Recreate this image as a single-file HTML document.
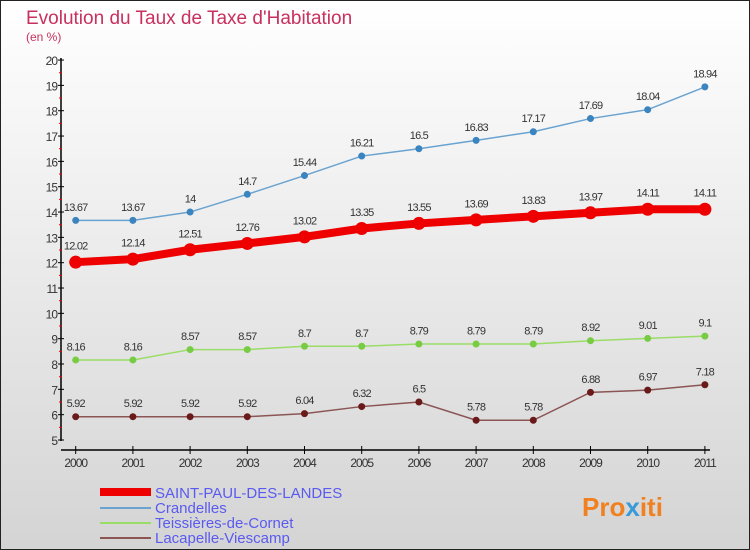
<!DOCTYPE html>
<html><head><meta charset="utf-8"><style>
body{margin:0;width:750px;height:550px;overflow:hidden}
svg{display:block;font-family:"Liberation Sans",sans-serif}
</style></head><body>
<svg id="c" width="750" height="550">
<defs><linearGradient id="bg" x1="0" y1="0" x2="0" y2="1"><stop offset="0" stop-color="#ffffff"/><stop offset="1" stop-color="#d4d4d4"/></linearGradient></defs>
<rect x="0.5" y="0.5" width="749" height="549" fill="url(#bg)" stroke="#222"/>
<text x="26" y="24" font-size="19" fill="#c8305f">Evolution du Taux de Taxe d'Habitation</text>
<text x="26" y="41" font-size="12" fill="#c8305f">(en %)</text>
<g id="axes"></g><g id="series"></g>
<g>
<line x1="100" y1="492" x2="151" y2="492" stroke="#e00" stroke-width="8"/>
<text x="155" y="498" font-size="15" fill="#5a5af0">SAINT-PAUL-DES-LANDES</text>
<line x1="100" y1="508" x2="151" y2="508" stroke="#6aa3d0" stroke-width="2"/>
<text x="155" y="513" font-size="15" fill="#5a5af0">Crandelles</text>
<line x1="100" y1="523" x2="151" y2="523" stroke="#99dd66" stroke-width="2"/>
<text x="155" y="528" font-size="15" fill="#5a5af0">Teissières-de-Cornet</text>
<line x1="100" y1="538" x2="151" y2="538" stroke="#8b5555" stroke-width="2"/>
<text x="155" y="543" font-size="15" fill="#5a5af0">Lacapelle-Viescamp</text>
</g>
<text x="582" y="516" font-size="26" font-weight="bold" fill="#f08020">Pro<tspan fill="#3a9ad9">x</tspan>iti</text>
</svg>
<script>
const years=[2000,2001,2002,2003,2004,2005,2006,2007,2008,2009,2010,2011];
const saintPaul=[12.02,12.14,12.51,12.76,13.02,13.35,13.55,13.69,13.83,13.97,14.11,14.11];
const crandelles=[13.67,13.67,14,14.7,15.44,16.21,16.5,16.83,17.17,17.69,18.04,18.94];
const teissieres=[8.16,8.16,8.57,8.57,8.7,8.7,8.79,8.79,8.79,8.92,9.01,9.1];
const lacapelle=[5.92,5.92,5.92,5.92,6.04,6.32,6.5,5.78,5.78,6.88,6.97,7.18];
const yTicks=[5,6,7,8,9,10,11,12,13,14,15,16,17,18,19,20];
const NS="http://www.w3.org/2000/svg";
const X=i=>75.7+i*57.2;
const Y=v=>440-(v-5)*25.33;
function mk(t,a,p){const e=document.createElementNS(NS,t);for(const k in a)e.setAttribute(k,a[k]);p.appendChild(e);return e;}
const ax=document.getElementById('axes');
const ya=mk('line',{x1:61,y1:58,x2:61,y2:441,stroke:'#000','stroke-width':1.5},ax);


const xa=mk('line',{x1:61,y1:450,x2:710,y2:450,stroke:'#000','stroke-width':1.5},ax);


yTicks.forEach(v=>{
  mk('line',{x1:58,y1:Y(v),x2:64,y2:Y(v),stroke:'#000'},ax);
  if(v<20)mk('line',{x1:59,y1:Y(v+0.5),x2:62,y2:Y(v+0.5),stroke:'#e00'},ax);
  const t=mk('text',{x:57,y:Y(v)+5,'font-size':12,'text-anchor':'end',fill:'#333','letter-spacing':'-1'},ax);
  t.textContent=v;
  
  
});
years.forEach((yr,i)=>{
  mk('line',{x1:X(i),y1:446,x2:X(i),y2:454,stroke:'#000'},ax);
  const t=mk('text',{x:X(i),y:467,'font-size':12,'text-anchor':'middle',fill:'#333','letter-spacing':'-1'},ax);
  t.textContent=yr;
  
  
});
const sg=document.getElementById('series');
function draw(vals,color,w,r,dot,name){
  const g=mk('g',{},sg);
  
  
  mk('polyline',{points:vals.map((v,i)=>X(i)+','+Y(v)).join(' '),fill:'none',stroke:color,'stroke-width':w},g);
  vals.forEach((v,i)=>{
    const c=mk('circle',{cx:X(i),cy:Y(v),r:r,fill:dot},g);
    
    
    const t=mk('text',{x:X(i),y:Y(v)-(r+6),'font-size':11,'text-anchor':'middle',fill:'#333','letter-spacing':'-0.8'},g);
    t.textContent=v;
    
    
  });
}
draw(crandelles,'#6aa3d0',1.5,3.5,'#3a84c0','crandelles');
draw(teissieres,'#99dd66',1.5,3.5,'#77cc44','teissieres');
draw(lacapelle,'#8b5555',1.5,3.5,'#6b1a1a','lacapelle');
draw(saintPaul,'#ee0000',8,6.5,'#ee0000','saint-paul');
</script>
</body></html>
